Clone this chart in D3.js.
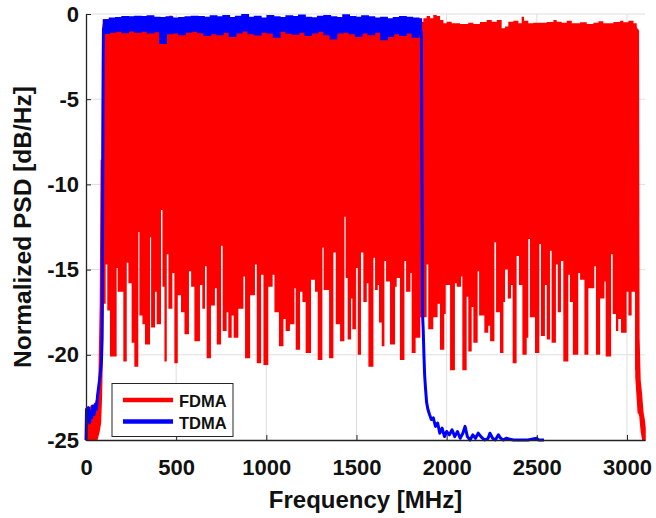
<!DOCTYPE html>
<html><head><meta charset="utf-8">
<script src="https://cdn.jsdelivr.net/npm/d3@7"></script>
<style>body{margin:0;background:#fff}</style>
</head><body><svg id="c" width="656" height="518"></svg>
<script>
// ---- tick labels ----
const xTicks=[0,500,1000,1500,2000,2500,3000];
const yTicks=[0,-5,-10,-15,-20,-25];
const seriesNames=["FDMA","TDMA"];

// ---- FDMA: lower edge of the in-band spectrum (step breakpoints, MHz / dB) ----
const fdmaLowF=[95,109,118,133,170,176,207,226,235,253,268,290,296,313,327,355,361,383,392,416,424,435,448,457,479,490,509,527,546,571,583,601,632,645,
660,669,693,715,725,749,758,780,789,808,819,845,873,882,910,937,947,971,984,1011,1035,1045,1070,1095,1107,1131,1156,1163,1187,1200,1218,1248,
1270,1285,1311,1318,1348,1372,1385,1409,1433,1440,1451,1470,1477,1497,1507,1525,1538,1557,1566,1594,1603,1618,1625,1640,1655,1664,1686,1714,1723,1741,1766,1775,1799,1806,1828,1854,
1889,1898,1926,1950,1963,1987,1995,2019,2046,2056,2080,2087,2111,2120,2139,2148,2172,2180,2209,2231,2241,2265,2274,2296,2315,2324,2339,2357,2366,2388,2401,2420,2444,2453,2462,
2490,2514,2523,2545,2555,2573,2582,2606,2616,2634,2647,2675,2684,2700,2730,2740,2764,2786,2819,2828,2851,2875,2882,2912,2921,2939,2952,2967,2998,3008,3026,3045,3063];
const fdmaLowV=[-17.0,-14.7,-17.4,-20.1,-14.9,-16.3,-20.4,-14.6,-15.8,-19.3,-20.7,-12.8,-17.7,-18.2,-19.4,-13.1,-18.4,-16.3,-18.2,-11.5,-16.0,-20.4,-14.1,-17.3,-15.2,-20.5,-16.5,-17.5,-18.8,-15.1,-16.0,-19.2,-15.9,-17.3,
-14.8,-20.2,-17.1,-16.1,-19.4,-13.6,-18.6,-17.5,-19.0,-17.7,-19.0,-17.3,-15.4,-20.2,-16.5,-14.7,-20.5,-15.3,-20.6,-16.0,-15.3,-17.5,-19.5,-17.9,-18.6,-18.2,-16.1,-19.7,-16.3,-16.9,-19.9,-15.6,
-16.3,-20.3,-13.7,-16.2,-20.2,-14.0,-18.2,-19.2,-11.9,-15.5,-19.1,-16.7,-18.5,-14.9,-20.0,-14.0,-16.9,-15.8,-20.7,-14.3,-16.2,-15.9,-18.1,-19.5,-14.5,-15.7,-19.4,-16.0,-15.5,-20.3,-14.5,-16.3,-15.2,-19.9,-19.0,-17.8,
-14.7,-18.5,-17.8,-17.0,-19.7,-17.6,-15.9,-20.9,-15.8,-16.0,-15.4,-20.9,-16.6,-19.8,-17.2,-19.3,-15.1,-17.7,-18.7,-18.3,-19.2,-13.4,-17.5,-19.9,-16.9,-15.0,-16.7,-15.9,-20.5,-14.2,-15.9,-20.0,-19.0,-13.2,-17.8,
-19.9,-13.5,-18.9,-15.9,-19.1,-13.9,-19.3,-14.7,-17.5,-14.5,-20.4,-15.3,-16.9,-20.0,-15.2,-15.6,-20.0,-16.1,-14.8,-20.0,-16.7,-15.7,-20.1,-14.1,-17.6,-18.6,-17.9,-18.7,-16.3,-17.7,-16.3,-20.9,-21.3];

// ---- FDMA: upper (ragged) edge ----
const fdmaTopF=[95,300,460,480,1871,1889,1908,1926,1945,1963,1982,2000,2028,2074,2120,2148,2185,2222,2250,2278,2305,2324,2342,2370,2398,2416,2429,2453,2481,2555,2592,2610,2638,2666,2694,2740,2777,2814,2842,2869,2925,2962,2980,3008,3036,3054,3063];
const fdmaTopV=[-0.3,-0.45,-0.1,-0.45,-0.25,-0.12,-0.25,-0.06,-0.12,-0.35,-0.55,-0.45,-0.55,-0.59,-0.51,-0.59,-0.47,-0.35,-0.45,-0.35,-0.84,-0.74,-0.45,-0.39,-0.55,-0.16,-0.39,-0.55,-0.51,-0.47,-0.35,-0.45,-0.51,-0.39,-0.55,-0.49,-0.59,-0.51,-0.43,-0.55,-0.47,-0.39,-0.49,-0.39,-0.55,-0.9,-1.0];

// ---- FDMA: band skirts (upper / lower envelope) ----
const fdmaLeftF =[0,15,30,45,60,72,80,85,90,95];
const fdmaLeftHi=[-23.6,-23.3,-23.0,-23.2,-22.6,-22.0,-17.0,-8.6,-8.6,-0.6];
const fdmaLeftLo=[-25,-25,-25,-25,-25,-24.5,-24.0,-22.5,-20.0,-17.0];
const fdmaRightF =[3050,3063,3066,3072,3080,3088,3095,3100];
const fdmaRightHi=[-0.8,-1.0,-19.0,-21.5,-22.3,-23.4,-23.8,-24.3];
const fdmaRightLo=[-21.3,-23.4,-23.4,-23.6,-24.5,-25,-25,-25];

// ---- TDMA: in-band envelope ----
const tdmaBandF=[97,130,165,200,235,270,305,340,375,410,445,480,515,550,585,620,655,690,725,760,795,830,865,900,935,970,1005,1040,1075,1110,1145,1180,1215,1250,1285,1320,1355,1390,1425,1460,1495,1530,1565,1600,1635,1670,1705,1740,1775,1810,1845,1860];
const tdmaBandHi=[-0.35,-0.25,-0.22,-0.16,-0.18,-0.14,-0.16,-0.12,-0.2,-0.22,-0.18,-0.25,-0.22,-0.18,-0.14,-0.16,-0.2,-0.12,-0.18,-0.1,-0.22,-0.15,-0.05,-0.2,-0.14,-0.25,-0.1,-0.18,-0.22,-0.12,-0.16,-0.08,-0.2,-0.24,-0.14,-0.1,-0.18,-0.22,-0.06,-0.16,-0.2,-0.12,-0.18,-0.25,-0.2,-0.3,-0.22,-0.16,-0.2,-0.25,-0.3,-0.35];
const tdmaBandLo=[-1.13,-1.05,-1.0,-1.08,-0.98,-1.05,-1.0,-1.1,-1.02,-1.72,-1.15,-1.1,-1.2,-1.05,-1.0,-1.08,-1.25,-1.15,-1.2,-1.05,-1.3,-1.1,-0.98,-1.15,-1.22,-1.05,-1.1,-1.35,-1.0,-1.12,-1.18,-1.05,-1.25,-1.1,-1.0,-1.2,-1.45,-1.1,-1.05,-1.15,-1.3,-1.1,-1.2,-1.05,-1.5,-1.3,-1.15,-1.25,-1.1,-1.35,-1.2,-1.2];

// ---- TDMA: skirts ----
const tdmaLeftF=[0,3,8,14,20,26,32,38,45,52,58,64,70,76,82,86,89,92,95,97];
const tdmaLeftV=[-25,-23.2,-23.8,-23.1,-24.0,-23.3,-23.7,-23.0,-23.5,-22.9,-23.2,-22.4,-21.9,-21.4,-20.8,-20.3,-19.0,-12.0,-3.0,-0.8];
const tdmaRightF=[1860,1863,1866,1870,1874,1878,1883,1889,1896,1905,1915,1926,1938,1950,1962,1975,1988,2000,2015,2030,2045,2060,2075,2090,2102,2115,2130,2145,2160,2175,2190,2210,2230,2240,2255,2270,2287,2300,2315,2330,2350,2370,2400,2450,2500,2510,2520,2540];
const tdmaRightV=[-1.0,-9,-17.5,-18.5,-20.0,-21.2,-22.0,-22.8,-23.2,-23.5,-23.8,-23.7,-24.2,-24.0,-24.6,-24.3,-24.8,-24.5,-24.7,-24.4,-24.8,-24.5,-24.9,-24.6,-24.2,-24.8,-25.0,-24.7,-24.9,-24.6,-24.8,-25.0,-24.9,-24.6,-24.9,-25.0,-24.7,-24.9,-25.0,-24.9,-24.95,-25.0,-25.0,-25.0,-24.9,-25.0,-25.0,-25.0];

// ---- drawing ----
const RED="#ff0000", BLUE="#0000ff", AX="#222222", FONT='"Liberation Sans", Arial, sans-serif';
const L=86,R=645,T=14,B=440;
const x=d3.scaleLinear().domain([0,3100]).range([L,R]);
const y=d3.scaleLinear().domain([-25,0]).range([B,T]);
const svg=d3.select("#c");
const zip=(f,a,b)=>f.map((v,i)=>({f:v,a:a[i],b:b?b[i]:null}));

// grid
const grid=svg.append("g").attr("stroke","#dedede").attr("stroke-width",1);
grid.selectAll("line.gx").data(xTicks.slice(1)).join("line").attr("class","gx")
  .attr("x1",d=>x(d)).attr("x2",d=>x(d)).attr("y1",y(-25)).attr("y2",y(0));
grid.selectAll("line.gy").data(yTicks.slice(0,-1)).join("line").attr("class","gy")
  .attr("x1",x(0)).attr("x2",x(3100)).attr("y1",d=>y(d)).attr("y2",d=>y(d));

const plot=svg.append("g");
// FDMA
const TOPFILL=-1.0, TOPBASE=-1.3;
plot.append("path").datum(zip(fdmaLowF,fdmaLowV))
  .attr("fill",RED).attr("d",d3.area().curve(d3.curveStepAfter).x(d=>x(d.f)).y0(d=>y(d.a)).y1(y(TOPFILL)));
plot.append("path").datum(zip(fdmaTopF,fdmaTopV))
  .attr("fill",RED).attr("d",d3.area().curve(d3.curveStepAfter).x(d=>x(d.f)).y0(y(TOPBASE)).y1(d=>y(d.a)));
const skirt=d3.area().x(d=>x(d.f)).y0(d=>y(d.b)).y1(d=>y(d.a));
plot.append("path").datum(zip(fdmaLeftF,fdmaLeftHi,fdmaLeftLo)).attr("fill",RED).attr("stroke",RED).attr("stroke-width",1.5).attr("d",skirt);
plot.append("path").datum(zip(fdmaRightF,fdmaRightHi,fdmaRightLo)).attr("fill",RED).attr("stroke",RED).attr("stroke-width",1.5).attr("d",skirt);

// TDMA
plot.append("path").datum(zip(tdmaBandF,tdmaBandHi,tdmaBandLo))
  .attr("fill",BLUE).attr("stroke",BLUE).attr("stroke-width",1.5)
  .attr("d",d3.area().curve(d3.curveStepAfter).x(d=>x(d.f)).y0(d=>y(d.b)).y1(d=>y(d.a)));
const ln=d3.line().x(d=>x(d.f)).y(d=>y(d.a));
plot.append("path").datum(zip(tdmaLeftF,tdmaLeftV)).attr("fill","none").attr("stroke",BLUE).attr("stroke-width",3).attr("stroke-linejoin","round").attr("d",ln);
plot.append("path").datum(zip(tdmaRightF,tdmaRightV)).attr("fill","none").attr("stroke",BLUE).attr("stroke-width",3).attr("stroke-linejoin","round").attr("d",ln);

// axes
const xa=svg.append("g").attr("transform",`translate(0,${B})`)
  .call(d3.axisBottom(x).tickValues(xTicks).tickSize(-5).tickSizeOuter(0).tickPadding(19).tickFormat(d3.format("d")));
const ya=svg.append("g").attr("transform",`translate(${L},0)`)
  .call(d3.axisLeft(y).tickValues(yTicks).tickSize(-5).tickSizeOuter(0).tickPadding(7).tickFormat(d=>d<0?"-"+Math.abs(d):""+d));
[xa,ya].forEach(g=>{
  g.select(".domain").attr("stroke",AX).attr("stroke-width",1.3);
  g.selectAll(".tick line").attr("stroke",AX).attr("stroke-width",1);
  g.selectAll("text").attr("fill","#111").style("font-family",FONT).style("font-weight","bold").style("font-size","22px");
});

// axis labels
svg.append("text").attr("x",(L+R)/2).attr("y",508).attr("text-anchor","middle")
  .style("font-family",FONT).style("font-weight","bold").style("font-size","24px").attr("fill","#111").text("Frequency [MHz]");
svg.append("text").attr("transform",`translate(31,${(T+B)/2}) rotate(-90)`).attr("text-anchor","middle")
  .style("font-family",FONT).style("font-weight","bold").style("font-size","24.5px").attr("fill","#111").text("Normalized PSD [dB/Hz]");

// legend
const lg=svg.append("g");
lg.append("rect").attr("x",112).attr("y",383.5).attr("width",121).attr("height",53).attr("fill","#fff").attr("stroke","#262626").attr("stroke-width",1);
const cols=[RED,BLUE];
seriesNames.forEach((n,i)=>{
  const yy=400+i*21.5;
  lg.append("line").attr("x1",123).attr("x2",173).attr("y1",yy).attr("y2",yy).attr("stroke",cols[i]).attr("stroke-width",4.5);
  lg.append("text").attr("x",179).attr("y",yy+1).attr("dominant-baseline","central")
    .style("font-family",FONT).style("font-weight","bold").style("font-size","16.5px").attr("fill","#111").text(n);
});
</script></body></html>
